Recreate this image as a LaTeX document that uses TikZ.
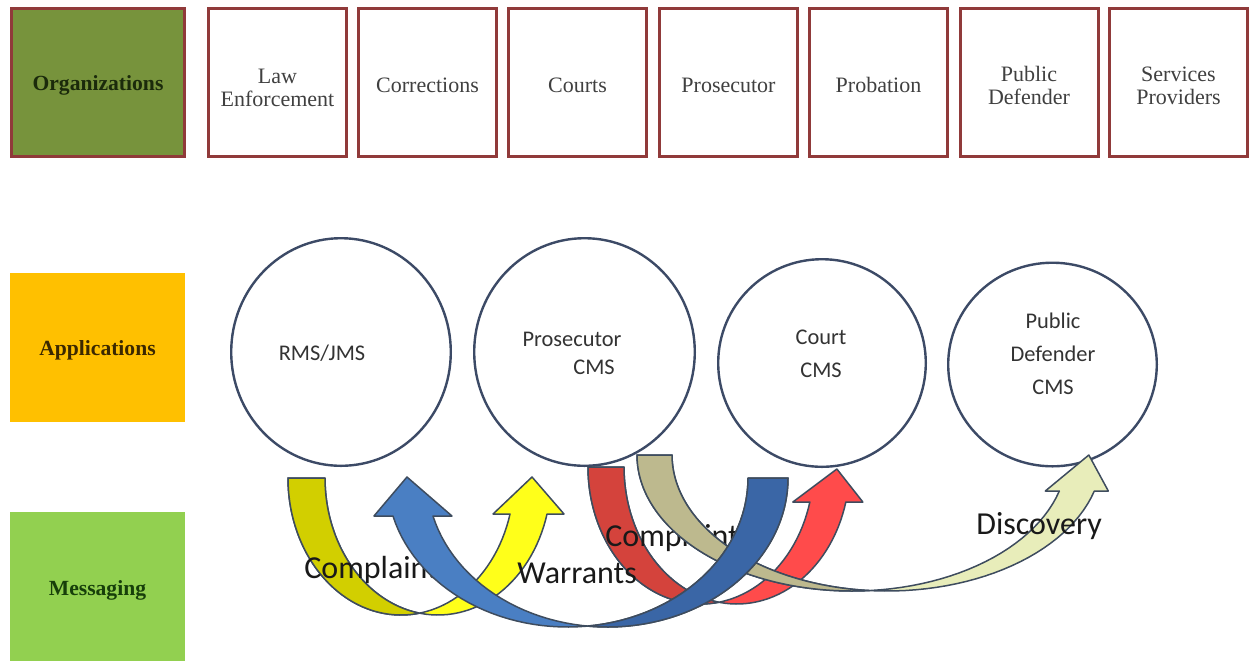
\documentclass[tikz,border=0pt]{standalone}
\usepackage{fontspec}
\setmainfont{Liberation Serif}
\newfontfamily\calibfont{Carlito}
\usetikzlibrary{shapes.geometric}

\definecolor{orgfill}{HTML}{77933C}
\definecolor{boxedge}{HTML}{903A3A}
\definecolor{appfill}{HTML}{FFC000}
\definecolor{msgfill}{HTML}{92D050}
\definecolor{boxtext}{HTML}{404040}
\definecolor{orgtext}{HTML}{1B2A0B}
\definecolor{apptext}{HTML}{3B2800}
\definecolor{msgtext}{HTML}{173F0A}
\definecolor{ringedge}{HTML}{3C4A66}
\definecolor{ribbonline}{HTML}{3E4C5E}
\definecolor{yellowdark}{HTML}{D2CF00}
\definecolor{yellowlight}{HTML}{FFFF1A}
\definecolor{bluedark}{HTML}{3A66A6}
\definecolor{bluelight}{HTML}{4A7FC3}
\definecolor{reddark}{HTML}{D4433C}
\definecolor{redlight}{HTML}{FF4B4B}
\definecolor{graydark}{HTML}{BDB98E}
\definecolor{graylight}{HTML}{E8EDBA}

\tikzset{
  orgbox/.style={rectangle, draw=boxedge, line width=1.5pt, fill=white,
    minimum width=69pt, minimum height=74pt, inner sep=0pt},
  orgtextstyle/.style={inner sep=0pt, align=center, text=boxtext,
    font=\fontsize{11}{11.5}\selectfont},
  rowbox/.style={rectangle, minimum width=87.5pt, minimum height=74.5pt, inner sep=0pt},
  rowtext/.style={inner sep=0pt, font=\bfseries\fontsize{10.8}{12}\selectfont},
  appring/.style={ellipse, draw=ringedge, line width=1.2pt, fill=white, inner sep=0pt},
  ringtext/.style={inner sep=0pt, align=center, text=black!80,
    font=\calibfont\fontsize{11.2}{16.6}\selectfont},
  msglabel/.style={anchor=base west, inner sep=0pt, text=black!90,
    font=\calibfont\fontsize{16}{19}\selectfont},
  ribbon edge/.style={draw=ribbonline, line width=0.75pt, line join=round},
  every plot/.style={samples=60},
}

% Curved block arrow: a band between two equal half ellipses set side by side.
% #1 outer x of the tail, #2 top y, #3 band width, #4 x radius, #5 y radius,
% #6 y of the head base, #7 tip shift, #8 tip y, #9 colour prefix
\def\rbbarb{17}
\newcommand\ribbon[9]{%
  \pgfmathsetmacro\rbA{#1+#4}%
  \pgfmathsetmacro\rbB{#1+#4+#3}%
  \pgfmathsetmacro\rbH{180-asin((#6-#2)/#5)}%
  \pgfmathsetmacro\rbCa{acos(-#3/(2*#4))}%
  \pgfmathsetmacro\rbCb{acos(#3/(2*#4))}%
  \pgfmathsetmacro\rbXa{\rbA-#4*cos(\rbH)}%
  \pgfmathsetmacro\rbXb{\rbB-#4*cos(\rbH)}%
  \pgfmathsetmacro\rbXt{(\rbXa+\rbXb)/2+#7}%
  \filldraw[ribbon edge, fill=#9light]
    plot[domain=0:\rbH] ({\rbA-#4*cos(\x)},{#2+#5*sin(\x)})
    -- ({\rbXa-\rbbarb},#6) -- (\rbXt,#8) -- ({\rbXb+\rbbarb},#6) -- (\rbXb,#6)
    -- plot[domain=\rbH:0] ({\rbB-#4*cos(\x)},{#2+#5*sin(\x)}) -- cycle;
  \filldraw[ribbon edge, fill=#9dark]
    plot[domain=0:\rbCa] ({\rbA-#4*cos(\x)},{#2+#5*sin(\x)})
    -- plot[domain=\rbCb:0] ({\rbB-#4*cos(\x)},{#2+#5*sin(\x)}) -- cycle;
}

\begin{document}
\begin{tikzpicture}[x=0.5pt, y=-0.5pt]
\useasboundingbox (0,0) rectangle (1249,661);

% row labels
\node[rowbox, draw=boxedge, line width=1.5pt, fill=orgfill,
      minimum width=86.5pt, minimum height=74pt] (org) at (98,82.5) {};
\node[rowbox, fill=appfill] (apps) at (97.5,347.5) {};
\node[rowbox, fill=msgfill] (msg) at (97.5,586.5) {};
\node[rowtext, text=orgtext] (orgtext) at (98,85.5)  {Organizations};
\node[rowtext, text=apptext] (apptext) at (97.5,350) {Applications};
\node[rowtext, text=msgtext] (msgtext) at (97.5,590) {Messaging};

% organizations
\node[orgbox] (lawenf)   at (277.5,82.5)  {};
\node[orgbox] (correct)  at (427.5,82.5)  {};
\node[orgbox] (courts)   at (577.5,82.5)  {};
\node[orgbox] (prosec)   at (728.5,82.5)  {};
\node[orgbox] (probat)   at (878.5,82.5)  {};
\node[orgbox] (pubdef)   at (1029,82.5)   {};
\node[orgbox] (services) at (1178.5,82.5) {};
\node[orgtextstyle] (lawenftext)   at (277.5,87.5)  {Law\\Enforcement};
\node[orgtextstyle] (correcttext)  at (427.5,85)    {Corrections};
\node[orgtextstyle] (courtstext)   at (577.5,85)    {Courts};
\node[orgtextstyle] (prosectext)   at (728.5,85)    {Prosecutor};
\node[orgtextstyle] (probattext)   at (878.5,85)    {Probation};
\node[orgtextstyle] (pubdeftext)   at (1029,85.5)   {Public\\Defender};
\node[orgtextstyle] (servicestext) at (1178.5,85.5) {Services\\Providers};

% applications
\node[appring, minimum width=109.8pt, minimum height=113.8pt] (rms)    at (341,352)     {};
\node[appring, minimum width=110.3pt, minimum height=113.8pt] (procms) at (584.5,352)   {};
\node[appring, minimum width=103.8pt, minimum height=103.8pt] (crtcms) at (822,363)     {};
\node[appring, minimum width=104.3pt, minimum height=101.8pt] (pdcms)  at (1052.5,364.5) {};

\node[ringtext] (rmstext)  at (322,353)    {RMS/JMS};
\node[ringtext] (protext1) at (572,339)    {Prosecutor};
\node[ringtext] (protext2) at (594,367)    {CMS};
\node[ringtext] (crttext)  at (821,353.5)  {Court\\CMS};
\node[ringtext] (pdtext)   at (1053,353.5) {Public\\Defender\\CMS};

% messages
\ribbon{588}{467}{36}{112.8}{137}{502}{9}{469}{red}
\ribbon{288}{478}{37}{113}{137}{514}{3.5}{477}{yellow}

\node[msglabel] (complaint1) at (304,578) {Complaint};
\node[msglabel] (complaint2) at (605,546) {Complaint};

\def\rbbarb{14}
\ribbon{637}{455}{35}{215}{136}{491}{12}{455}{gray}
\def\rbbarb{19}
\begin{scope}[xscale=-1]
  \ribbon{-788}{478}{40}{180.5}{149}{516}{6}{477}{blue}
\end{scope}

\node[msglabel] (warrants)  at (517,583) {Warrants};
\node[msglabel] (discovery) at (976,534) {Discovery};
\end{tikzpicture}
\end{document}
